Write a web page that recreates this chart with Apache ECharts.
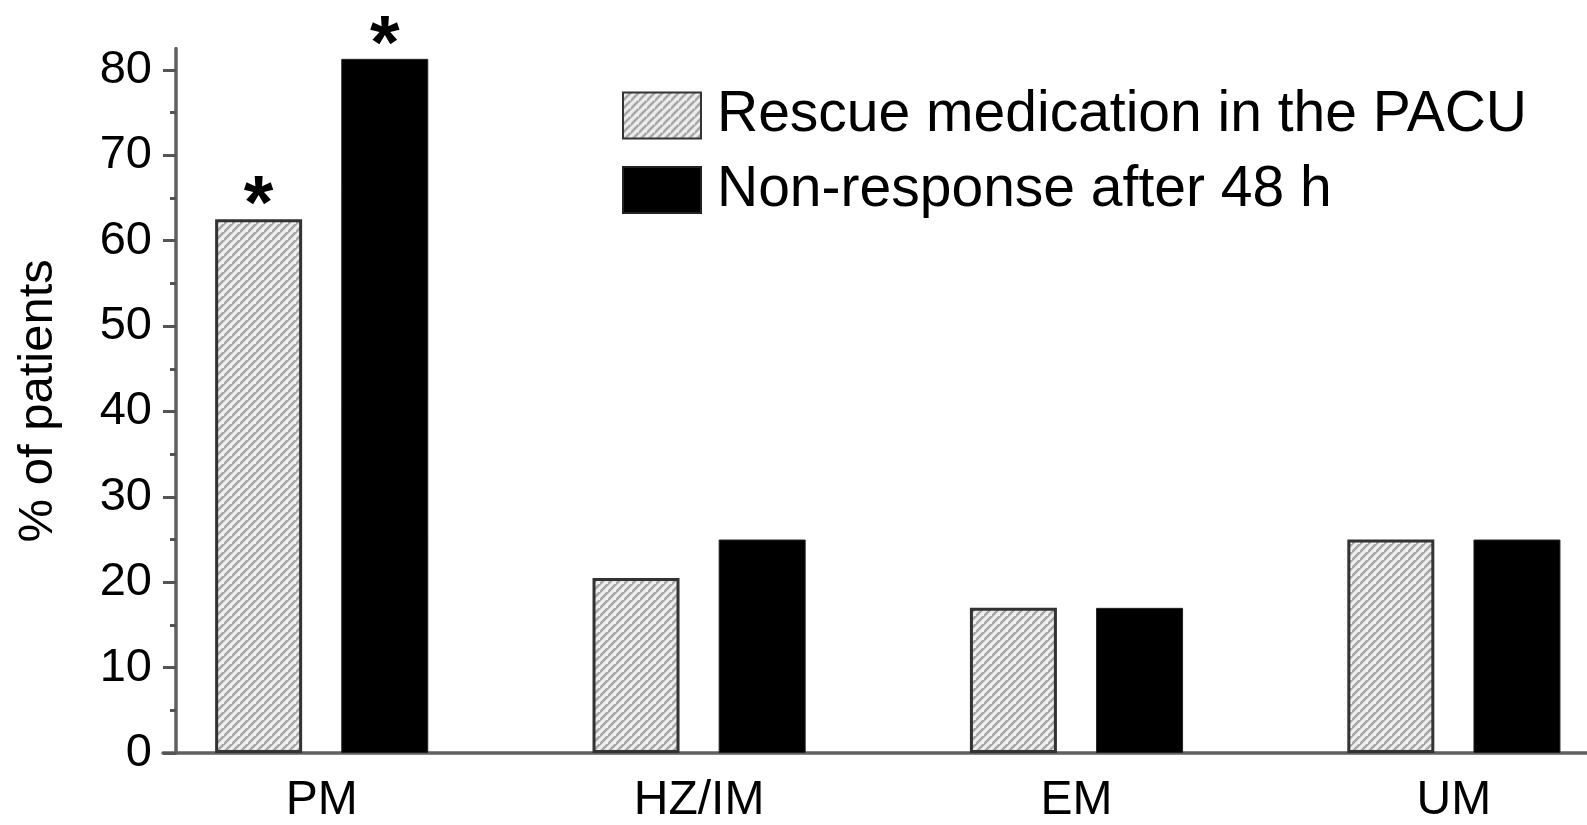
<!DOCTYPE html>
<html>
<head>
<meta charset="utf-8">
<style>
  html, body { margin: 0; padding: 0; background: #fff; }
  #chart { width: 1587px; height: 825px; }
</style>
<script src="https://cdn.jsdelivr.net/npm/echarts@6/dist/echarts.min.js"></script>
</head>
<body>
<div id="chart"></div>
<script>
// ---- data ----
const categories = ['PM', 'HZ/IM', 'EM', 'UM'];
const rescueMedication = [62.5, 20.5, 17, 25];
const nonResponse = [81.3, 25, 17, 25];
const rescueMarks = ['*', '', '', ''];
const nonResponseMarks = ['*', '', '', ''];
const yTickValues = [0, 10, 20, 30, 40, 50, 60, 70, 80];
const yMinorTickValues = [5, 15, 25, 35, 45, 55, 65, 75];
const seriesNames = ['Rescue medication in the PACU', 'Non-response after 48 h'];

// ---- hatch pattern ----
function makeHatch() {
  const s = 8;
  const c = document.createElement('canvas');
  c.width = s; c.height = s;
  const g = c.getContext('2d');
  g.fillStyle = '#efefef';
  g.fillRect(0, 0, s, s);
  g.strokeStyle = '#a6a6a6';
  g.lineWidth = 2.6;
  g.beginPath();
  g.moveTo(-1, s + 1); g.lineTo(s + 1, -1);
  g.moveTo(-1 - s, s + 1); g.lineTo(1, -1);
  g.moveTo(s - 1, 2 * s + 1); g.lineTo(2 * s + 1, s - 1);
  g.stroke();
  return c;
}
const hatch = { image: makeHatch(), repeat: 'repeat' };

const FONT = 'Liberation Sans, Arial, Helvetica, sans-serif';
const chart = echarts.init(document.getElementById('chart'), null, { renderer: 'canvas' });

const markLabel = (marks) => ({
  show: true,
  position: 'top',
  distance: 0,
  formatter: p => marks[p.dataIndex],
  fontFamily: FONT,
  fontWeight: 'bold',
  fontSize: 76,
  lineHeight: 24,
  color: '#000'
});

chart.setOption({
  animation: false,
  backgroundColor: '#fff',
  grid: { left: 163, right: 0, top: 48.6, bottom: 71, containLabel: false },
  legend: {
    orient: 'vertical',
    left: 622,
    top: 87,
    padding: 0,
    itemWidth: 78,
    itemHeight: 46,
    itemGap: 17.5,
    icon: 'rect',
    textStyle: { fontFamily: FONT, fontSize: 57, lineHeight: 57, color: '#000', padding: [0, 0, 0, 11] },
    data: seriesNames
  },
  xAxis: {
    type: 'value',
    min: -0.4205,
    max: 3.3527,
    axisLine: { show: true, onZero: false, lineStyle: { color: '#606060', width: 3.5 } },
    axisTick: { show: false },
    splitLine: { show: false },
    axisLabel: {
      customValues: categories.map((c, i) => i),
      formatter: v => categories[Math.round(v)],
      fontFamily: FONT, fontSize: 48, color: '#000', margin: 24
    }
  },
  yAxis: [
    {
      type: 'value',
      position: 'left',
      min: 0, max: 82.5, interval: 10,
      offset: -13,
      name: '% of patients',
      nameLocation: 'middle',
      nameGap: 113,
      nameTextStyle: { fontFamily: FONT, fontSize: 49, color: '#000' },
      axisLine: { show: true, onZero: false, lineStyle: { color: '#606060', width: 3.5 } },
      axisTick: { show: true, inside: false, length: 13, customValues: yTickValues, lineStyle: { color: '#555', width: 3 } },
      axisLabel: { customValues: yTickValues, fontFamily: FONT, fontSize: 47, color: '#000', margin: 24 },
      splitLine: { show: false }
    },
    {
      type: 'value',
      position: 'left',
      min: 0, max: 82.5, interval: 10,
      offset: -13,
      axisLine: { show: false, onZero: false },
      axisTick: { show: true, inside: false, length: 6, customValues: yMinorTickValues, lineStyle: { color: '#555', width: 3 } },
      axisLabel: { show: false },
      splitLine: { show: false }
    }
  ],
  series: [
    {
      name: seriesNames[0],
      type: 'bar',
      barWidth: 87,
      barGap: '45%',
      data: categories.map((c, i) => [i, rescueMedication[i]]),
      itemStyle: { color: hatch, borderColor: '#333', borderWidth: 3 },
      label: markLabel(rescueMarks)
    },
    {
      name: seriesNames[1],
      type: 'bar',
      barWidth: 87,
      barGap: '45%',
      data: categories.map((c, i) => [i, nonResponse[i]]),
      itemStyle: { color: '#000', borderColor: '#222', borderWidth: 1 },
      label: markLabel(nonResponseMarks)
    }
  ]
});
</script>
</body>
</html>
